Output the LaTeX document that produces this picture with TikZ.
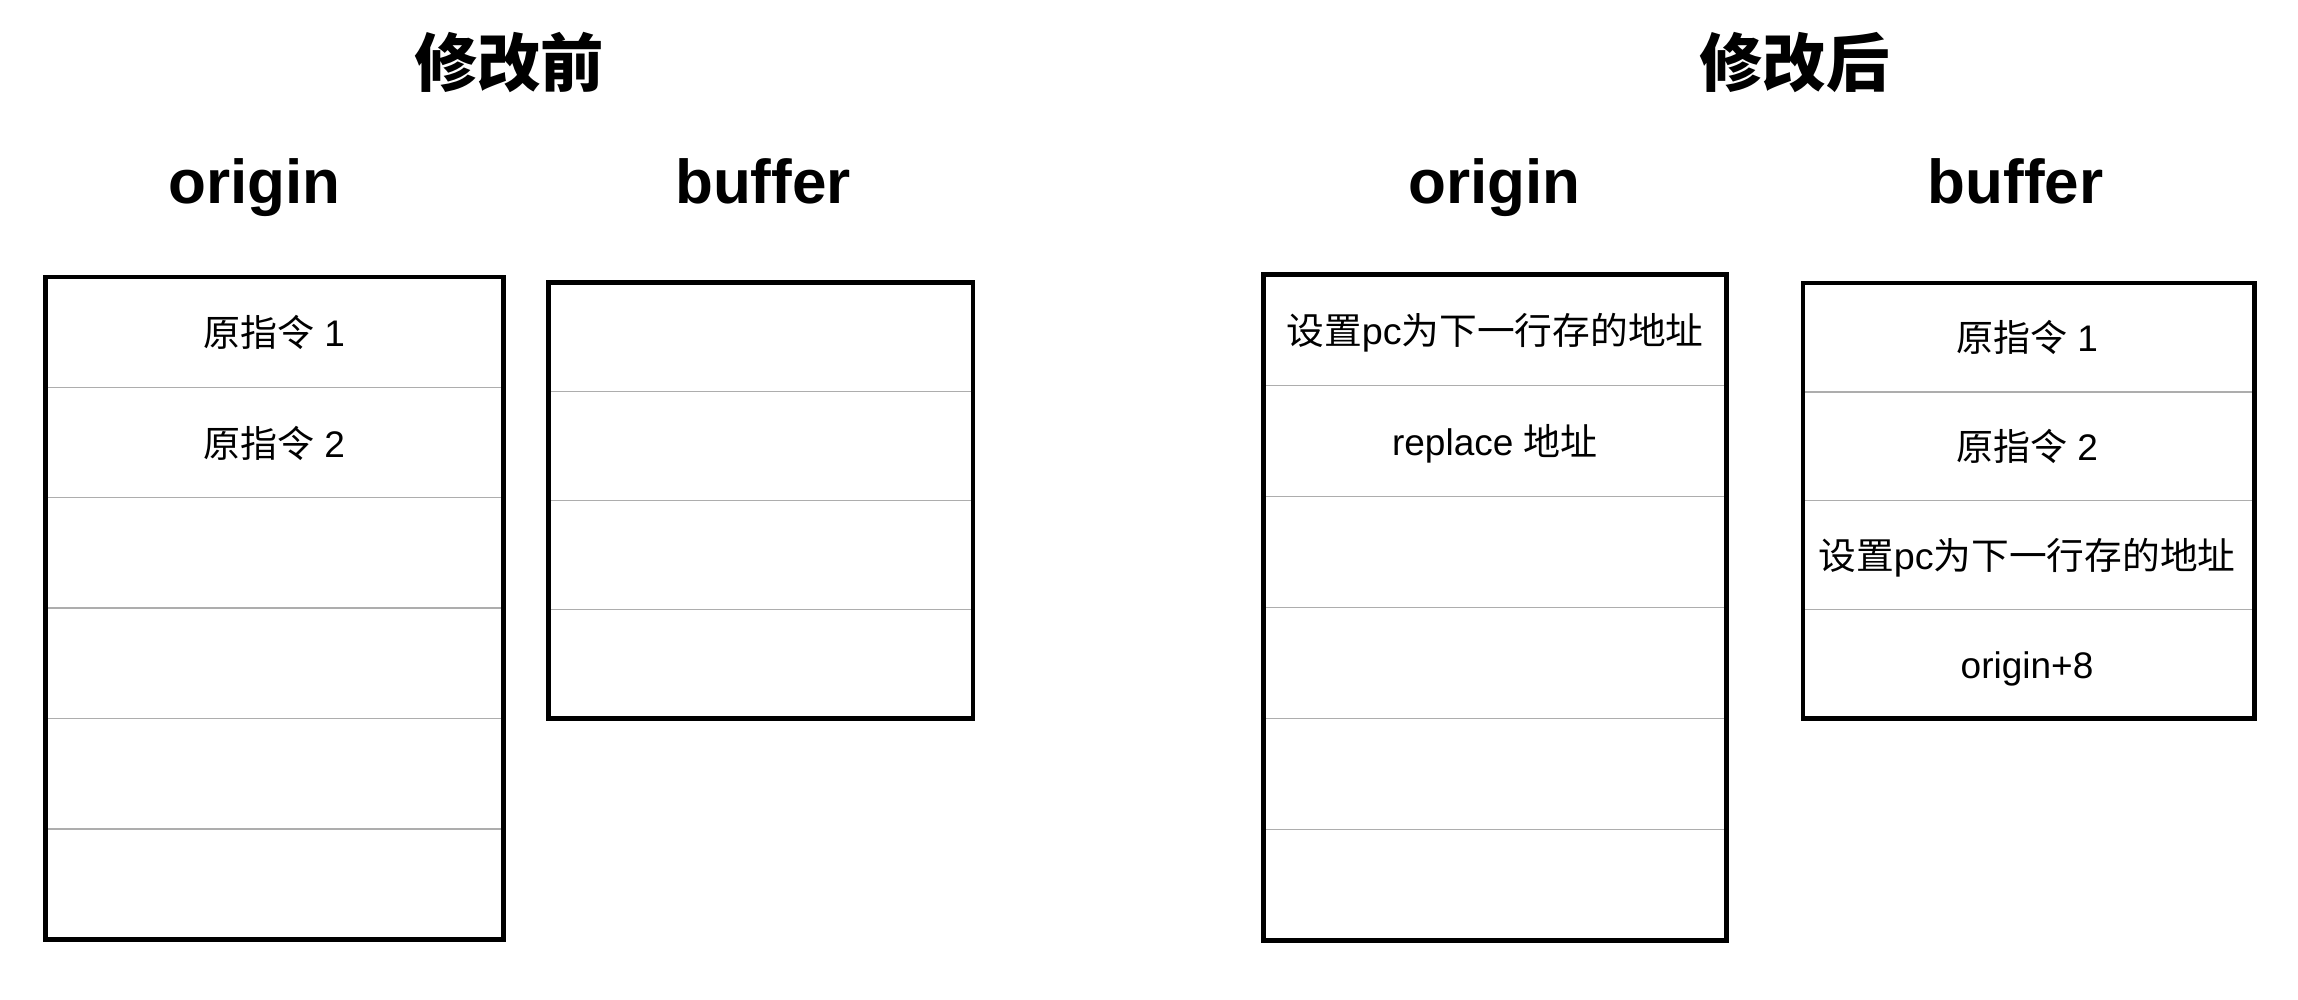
\documentclass[tikz,border=0pt]{standalone}
\usepackage{fontspec}
\usepackage{graphicx}
\setmainfont{Liberation Sans}
\newfontfamily\cjk{Noto Sans CJK SC}
\tikzset{
  frame/.style={draw=black, line width=1.4pt},
  divider/.style={draw=black!32, line width=0.45pt},
  cell/.style={anchor=base, inner sep=0pt, font=\fontsize{11.1pt}{13pt}\selectfont},
  heading/.style={anchor=base, inner sep=0pt, font=\fontsize{18.6pt}{22pt}\selectfont\bfseries},
  title/.style={anchor=center, inner sep=0pt, font=\fontsize{19pt}{22pt}\selectfont\cjk\bfseries},
}
\begin{document}
\begin{tikzpicture}[x=0.3pt, y=-0.3pt]
\useasboundingbox (0,0) rectangle (2298,1000);

% titles and headings
\node[title] (t1) at (509,63) {修改前};
\node[title] (t2) at (1794.5,63) {修改后};
\node[heading] (h1) at (254.5,204) {origin};
\node[heading] (h2) at (763,204) {buffer};
\node[heading] (h3) at (1494.6,204) {origin};
\node[heading] (h4) at (2015.6,204) {buffer};

% left origin
\foreach \y in {387.3,497.7,608.0,718.4,828.8}
  \draw[divider] (45.2,\y) -- (503.6,\y);
\draw[frame] (45.2,276.9) rectangle (503.6,939.2);
\node[cell] (a1) at (274,346.6) {{\cjk 原指令} 1};
\node[cell] (a2) at (274,457) {{\cjk 原指令} 2};

% left buffer
\foreach \y in {391.5,500.4,609.4}
  \draw[divider] (548.3,\y) -- (973,\y);
\draw[frame] (548.3,282.5) rectangle (973,718.3);

% right origin
\foreach \y in {385.3,496.4,607.4,718.4,829.5}
  \draw[divider] (1263.3,\y) -- (1726.5,\y);
\draw[frame] (1263.3,274.3) rectangle (1726.5,940.5);
\node[cell] (c1) at (1494.9,344.3) {\scalebox{1.02}[1]{{\cjk 设置}pc{\cjk 为下一行存的地址}}};
\node[cell] (c2) at (1494.9,455.4) {replace {\cjk 地址}};

% right buffer
\foreach \y in {391.8,500.6,609.5}
  \draw[divider] (1803,\y) -- (2254.3,\y);
\draw[frame] (1803,283) rectangle (2254.3,718.3);
\node[cell] (d1) at (2027,351.5) {{\cjk 原指令} 1};
\node[cell] (d2) at (2027,460.7) {{\cjk 原指令} 2};
\node[cell] (d3) at (2027,569.5) {\scalebox{1.02}[1]{{\cjk 设置}pc{\cjk 为下一行存的地址}}};
\node[cell] (d4) at (2027,678.4) {origin+8};
\end{tikzpicture}
\end{document}
